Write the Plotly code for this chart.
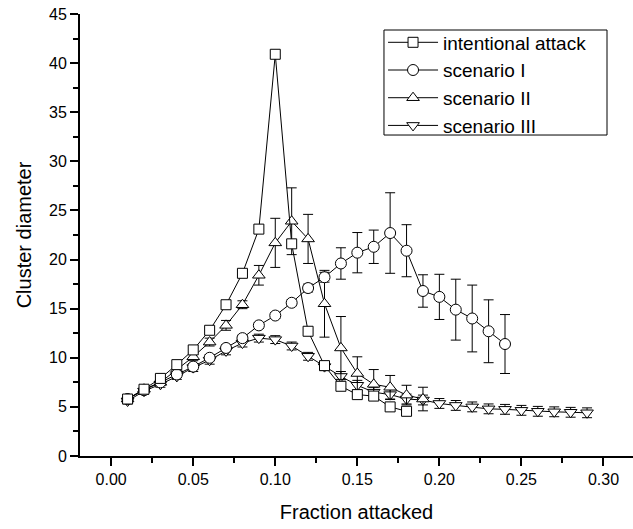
import plotly.graph_objects as go

# ---- data ----
x_attack = [0.01, 0.02, 0.03, 0.04, 0.05, 0.06, 0.07, 0.08, 0.09, 0.10, 0.11, 0.12, 0.13, 0.14, 0.15, 0.16, 0.17, 0.18]
y_attack = [5.8, 6.8, 7.9, 9.3, 10.8, 12.8, 15.4, 18.6, 23.1, 40.9, 21.6, 12.7, 9.2, 7.1, 6.25, 6.1, 5.0, 4.55]

x_s1 = [0.01, 0.02, 0.03, 0.04, 0.05, 0.06, 0.07, 0.08, 0.09, 0.10, 0.11, 0.12,
        0.13, 0.14, 0.15, 0.16, 0.17, 0.18, 0.19, 0.20, 0.21, 0.22, 0.23, 0.24]
y_s1 = [5.8, 6.7, 7.5, 8.3, 9.1, 10.0, 11.0, 12.0, 13.3, 14.3, 15.6, 17.1,
        18.2, 19.6, 20.7, 21.3, 22.7, 20.9, 16.8, 16.2, 14.9, 14.0, 12.7, 11.4]
e_s1 = [0.2, 0.2, 0.2, 0.3, 0.3, 0.3, 0.3, 0.3, 0.3, 0.3, 0.3, 0.4,
        0.5, 1.6, 2.05, 1.7, 4.1, 2.65, 1.65, 2.3, 3.1, 3.4, 3.2, 3.0]

x_s2 = [0.01, 0.02, 0.03, 0.04, 0.05, 0.06, 0.07, 0.08, 0.09, 0.10, 0.11, 0.12,
        0.13, 0.14, 0.15, 0.16, 0.17, 0.18, 0.19]
y_s2 = [5.8, 6.8, 7.5, 8.8, 10.1, 11.6, 13.3, 15.4, 18.4, 21.7, 23.9, 22.1,
        15.5, 11.0, 8.4, 7.3, 7.0, 6.2, 5.8]
e_s2 = [0.2, 0.2, 0.3, 0.3, 0.4, 0.4, 0.5, 0.4, 1.0, 2.5, 3.4, 2.5,
        3.4, 3.2, 1.7, 1.5, 1.2, 1.0, 1.2]

x_s3 = [0.01, 0.02, 0.03, 0.04, 0.05, 0.06, 0.07, 0.08, 0.09, 0.10, 0.11, 0.12, 0.13, 0.14, 0.15,
        0.16, 0.17, 0.18, 0.19, 0.20, 0.21, 0.22, 0.23, 0.24, 0.25, 0.26, 0.27, 0.28, 0.29]
y_s3 = [5.6, 6.6, 7.3, 8.1, 9.0, 9.75, 10.7, 11.5, 12.0, 11.85, 11.2, 10.15, 9.1, 8.1, 7.2,
        6.5, 6.25, 5.8, 5.7, 5.35, 5.15, 5.0, 4.8, 4.75, 4.65, 4.55, 4.5, 4.45, 4.4]
e_s3 = [0.3, 0.3, 0.3, 0.3, 0.4, 0.4, 0.4, 0.4, 0.4, 0.4, 0.4, 0.4, 0.4, 0.5, 0.5,
        0.5, 0.5, 0.5, 0.5, 0.5, 0.5, 0.5, 0.5, 0.5, 0.5, 0.5, 0.5, 0.5, 0.5]

x_ticks = [0.00, 0.05, 0.10, 0.15, 0.20, 0.25, 0.30]
x_tick_labels = ["0.00", "0.05", "0.10", "0.15", "0.20", "0.25", "0.30"]
y_ticks = [0, 5, 10, 15, 20, 25, 30, 35, 40, 45]

FONT = "Arial, Liberation Sans, sans-serif"

def trace(x, y, err, name, symbol, size):
    t = dict(x=x, y=y, name=name, mode="lines+markers",
             line=dict(color="black", width=1),
             marker=dict(symbol=symbol, size=size, color="white",
                         line=dict(color="black", width=1)))
    if err is not None:
        t["error_y"] = dict(type="data", array=err, visible=True,
                            color="black", thickness=1, width=5)
    return go.Scatter(**t)

fig = go.Figure()
fig.add_trace(trace(x_s3, y_s3, e_s3, "scenario III", "triangle-down", 11))
fig.add_trace(trace(x_s2, y_s2, e_s2, "scenario II", "triangle-up", 11))
fig.add_trace(trace(x_s1, y_s1, e_s1, "scenario I", "circle", 11))
fig.add_trace(trace(x_attack, y_attack, None, "intentional attack", "square", 10))

# legend frame
fig.add_shape(type="rect", xref="paper", yref="paper",
              x0=0.5497, x1=0.953, y0=0.7262, y1=0.9638,
              line=dict(color="black", width=1), fillcolor="white", layer="above")

fig.update_layout(
    width=633, height=529,
    margin=dict(l=80, r=0, t=14, b=73),
    plot_bgcolor="white", paper_bgcolor="white",
    font=dict(family=FONT, size=16, color="black"),
    showlegend=True,
    legend=dict(x=0.548, y=0.9786, xanchor="left", yanchor="top",
                borderwidth=0, bgcolor="rgba(0,0,0,0)",
                font=dict(size=19, family=FONT), traceorder="reversed",
                tracegroupgap=0, itemwidth=50),
    xaxis=dict(range=[-0.019, 0.318], tickvals=x_ticks, ticktext=x_tick_labels,
               showgrid=False, zeroline=False, showline=True, linecolor="black",
               linewidth=2, ticks="outside", ticklen=8, tickwidth=2, tickcolor="black",
               minor=dict(dtick=0.025, tick0=0, ticks="outside", ticklen=5,
                          tickwidth=1.5, tickcolor="black", showgrid=False),
               title=dict(text="Fraction attacked", font=dict(size=20), standoff=18),
               tickfont=dict(size=16)),
    yaxis=dict(range=[0, 45], tickvals=y_ticks,
               showgrid=False, zeroline=False, showline=True, linecolor="black",
               linewidth=2, ticks="outside", ticklen=8, tickwidth=2, tickcolor="black",
               minor=dict(dtick=2.5, tick0=0, ticks="outside", ticklen=5,
                          tickwidth=1.5, tickcolor="black", showgrid=False),
               title=dict(text="Cluster diameter", font=dict(size=20), standoff=12),
               tickfont=dict(size=16)),
)

fig.write_html("out.html")
